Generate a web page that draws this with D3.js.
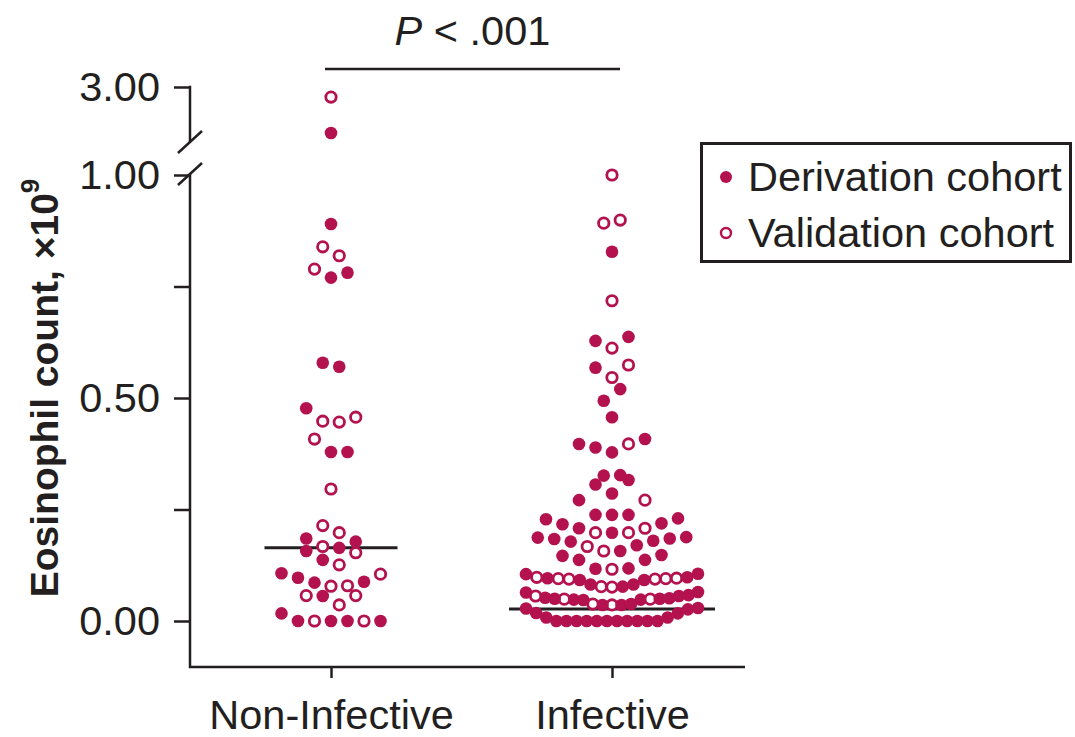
<!DOCTYPE html>
<html><head><meta charset="utf-8">
<script src="https://cdn.jsdelivr.net/npm/d3@7"></script>
<style>
body{margin:0;background:#fff}
svg{display:block}
text{font-family:"Liberation Sans",Arial,Helvetica,sans-serif;fill:#231f20}
</style>
</head><body>
<svg id="c" width="1075" height="737"></svg>
<script>
// ---------------- data ----------------
const groups = ["Non-Infective", "Infective"];
const cohorts = ["Derivation cohort", "Validation cohort"];

// Non-Infective: values (x10^9) and cohort (D = derivation, V = validation)
const nonInfValues = [
  0, 0, 0, 0, 0, 0, 0.017,
  0.036, 0.056, 0.057, 0.057,
  0.078, 0.079, 0.086, 0.088, 0.097, 0.105, 0.107,
  0.126, 0.137, 0.153, 0.157,
  0.164, 0.167, 0.178, 0.185,
  0.198, 0.214, 0.296,
  0.379, 0.379, 0.408,
  0.446, 0.448, 0.457, 0.477,
  0.570, 0.579,
  0.770, 0.781, 0.789,
  0.819, 0.839, 0.890,
  1.81, 2.74
];
const nonInfCohort = [
  "D","D","V","V","D","D","D",
  "V","D","V","V",
  "V","V","D","D","D","V","D",
  "V","D","V","D",
  "D","V","D","D",
  "V","V","V",
  "D","D","V",
  "V","V","V","D",
  "D","D",
  "D","D","V",
  "V","V","D",
  "D","V"
];

// Infective
const infValues = [
  0,0,0,0,0,0,0,0,0,0,0, 0.008,0.008,0.017,0.018,0.026,0.028,0.029,
  0.036,0.036,0.036,0.038,0.038,0.047,0.048,0.048,0.049,0.049,0.050,0.050,0.051,0.052,0.056,0.056,0.058,0.064,0.065,
  0.076,0.077,0.077,0.082,0.082,0.092,0.092,0.094,0.094,0.095,0.095,0.096,0.096,0.098,0.098,0.105,0.106,
  0.116,0.117,0.118,0.137,0.137,0.146,0.148,
  0.157,0.157,0.167,0.170,0.178,0.180,0.184,0.185,0.187,0.188,
  0.198,0.198,0.198,0.208,0.208,0.217,0.219,0.228,0.230,
  0.238,0.238,0.238,0.271,0.271,
  0.286,0.306,0.316,
  0.326,0.327,
  0.378,0.389,0.397,0.397,0.408,
  0.457,
  0.494,0.520,
  0.546,0.568,0.574,
  0.612,0.628,0.637,
  0.718,
  0.828,
  0.892,0.899,
  1.00
];
const infCohort = [
  "D","D","D","D","D","D","D","D","D","D","D", "D","D","D","D","D","D","D",
  "V","D","D","V","D","D","D","D","V","V","D","D","D","D","D","V","D","D","D",
  "V","V","D","D","D","D","D","V","V","V","V","D","V","V","D","D","D",
  "V","D","D","D","D","D","D",
  "V","D","V","D","D","D","D","D","D","D",
  "D","V","V","D","V","D","D","D","D",
  "D","D","D","D","V",
  "D","D","D",
  "D","D",
  "D","D","V","D","D",
  "D",
  "D","D",
  "V","D","V",
  "V","D","D",
  "V",
  "D",
  "V","V",
  "V"
];

const medians = [0.164, 0.027];
const yTicks = [0, 0.25, 0.5, 0.75, 1.0];
const yTickLabels = ["0.00", "", "0.50", "", "1.00"];
const upperTicks = [3.0];
const upperTickLabels = ["3.00"];
const yTitle = "Eosinophil count, \u00d710";
const yTitleSup = "9";
const pText = ["P", " < .001"];

// ---------------- drawing ----------------
const COL = "#b3124f";
const INK = "#231f20";
const FS = 41.5;
const svg = d3.select("#c");

const x = d3.scalePoint().domain(groups).range([331, 612]);
const yLow = d3.scaleLinear().domain([0, 1]).range([621, 175]);
const yHigh = d3.scaleLinear().domain([1.5, 3]).range([145, 87]);
const yOf = v => v > 1.05 ? yHigh(v) : yLow(v);

const axisX = 190, axisBottom = 667, axisRight = 745;

// Prism-like row layout
function layout(values, cohort, firstSide) {
  const pts = values.map((v, i) => ({v, c: cohort[i], i}));
  const sorted = pts.slice().sort((a, b) => a.v - b.v || a.i - b.i);
  const rows = []; let cur = null;
  for (const p of sorted) {
    if (!cur || p.v - cur.start > 0.033 + 1e-9) { cur = {start: p.v, items: []}; rows.push(cur); }
    cur.items.push(p);
  }
  rows.forEach(r => {
    const n = r.items.length;
    const s = n > 1 ? Math.min(16.5, 172 / (n - 1)) : 0;
    const offs = d3.range(n).map(k => k - (n - 1) / 2);
    offs.sort((a, b) => Math.abs(a) - Math.abs(b) || (firstSide < 0 ? a - b : b - a));
    r.items.forEach((p, k) => { p.dx = offs[k] * s; });
  });
  return pts;
}

const data = [
  {g: groups[0], pts: layout(nonInfValues, nonInfCohort, 1), med: medians[0]},
  {g: groups[1], pts: layout(infValues, infCohort, -1), med: medians[1]}
];

// median lines (under points)
data.forEach(d => {
  const hw = d3.max(d.pts, p => Math.abs(p.dx)) + 17;
  const cx = x(d.g);
  svg.append("line")
    .attr("x1", cx - hw).attr("x2", cx + hw)
    .attr("y1", yLow(d.med)).attr("y2", yLow(d.med))
    .attr("stroke", INK).attr("stroke-width", 3);
});

// points
data.forEach(d => {
  const cx = x(d.g);
  const g = svg.append("g");
  g.selectAll("circle").data(d.pts).join("circle")
    .attr("cx", p => cx + p.dx)
    .attr("cy", p => yOf(p.v))
    .attr("r", p => p.c === "D" ? 6.3 : 5.2)
    .attr("fill", p => p.c === "D" ? COL : "#fff")
    .attr("stroke", p => p.c === "D" ? "none" : COL)
    .attr("stroke-width", 2.8);
});

// y axis (lower segment)
const axL = svg.append("g").attr("transform", `translate(${axisX},0)`)
  .call(d3.axisLeft(yLow).tickValues(yTicks).tickSize(16).tickPadding(14)
    .tickFormat((d, i) => yTickLabels[i]));
axL.select(".domain").remove();
axL.selectAll(".tick line").attr("stroke", INK).attr("stroke-width", 2.5);
axL.selectAll(".tick text").attr("font-size", FS).attr("fill", INK);

// y axis (upper segment)
const axU = svg.append("g").attr("transform", `translate(${axisX},0)`)
  .call(d3.axisLeft(yHigh).tickValues(upperTicks).tickSize(16).tickPadding(14)
    .tickFormat((d, i) => upperTickLabels[i]));
axU.select(".domain").remove();
axU.selectAll(".tick line").attr("stroke", INK).attr("stroke-width", 2.5);
axU.selectAll(".tick text").attr("font-size", FS).attr("fill", INK);

// axis lines with break
svg.append("path")
  .attr("d", `M${axisX},${yHigh(3) - 1.25}V142`)
  .attr("stroke", INK).attr("stroke-width", 2.5).attr("fill", "none");
svg.append("path")
  .attr("d", `M${axisX},174V${axisBottom}H${axisRight}`)
  .attr("stroke", INK).attr("stroke-width", 2.5).attr("fill", "none");
[[153, 131], [185, 163]].forEach(([a, b]) => {
  svg.append("line").attr("x1", 178).attr("y1", a).attr("x2", 202).attr("y2", b)
    .attr("stroke", INK).attr("stroke-width", 2.5);
});

// x axis ticks and labels
const axB = svg.append("g").attr("transform", `translate(0,${axisBottom})`)
  .call(d3.axisBottom(x).tickSize(11).tickPadding(22));
axB.select(".domain").remove();
axB.selectAll(".tick line").attr("stroke", INK).attr("stroke-width", 2.5);
axB.selectAll(".tick text").attr("font-size", FS).attr("fill", INK);

// y title
const yt = svg.append("text")
  .attr("transform", "translate(58,388) rotate(-90)")
  .attr("text-anchor", "middle")
  .attr("font-size", 39).attr("font-weight", "bold");
yt.append("tspan").text(yTitle);
yt.append("tspan").attr("dy", "-0.75em").attr("font-size", 26).text(yTitleSup);

// significance bar
const bx1 = x(groups[0]) - 6, bx2 = x(groups[1]) + 8;
svg.append("line").attr("x1", bx1).attr("x2", bx2).attr("y1", 69).attr("y2", 69)
  .attr("stroke", INK).attr("stroke-width", 2.5);
const pt = svg.append("text").attr("x", (bx1 + bx2) / 2).attr("y", 45)
  .attr("text-anchor", "middle").attr("font-size", FS);
pt.append("tspan").attr("font-style", "italic").text(pText[0]);
pt.append("tspan").text(pText[1]);

// legend
const lg = svg.append("g");
lg.append("rect").attr("x", 701.5).attr("y", 143.5).attr("width", 369).attr("height", 118)
  .attr("fill", "none").attr("stroke", INK).attr("stroke-width", 3);
cohorts.forEach((c, i) => {
  const yy = 177 + i * 56;
  lg.append("circle").attr("cx", 726).attr("cy", yy)
    .attr("r", i === 0 ? 6 : 5)
    .attr("fill", i === 0 ? COL : "#fff")
    .attr("stroke", i === 0 ? "none" : COL).attr("stroke-width", 2.4);
  lg.append("text").attr("x", 748).attr("y", yy + 14).attr("font-size", FS).text(c);
});
</script>
</body></html>
